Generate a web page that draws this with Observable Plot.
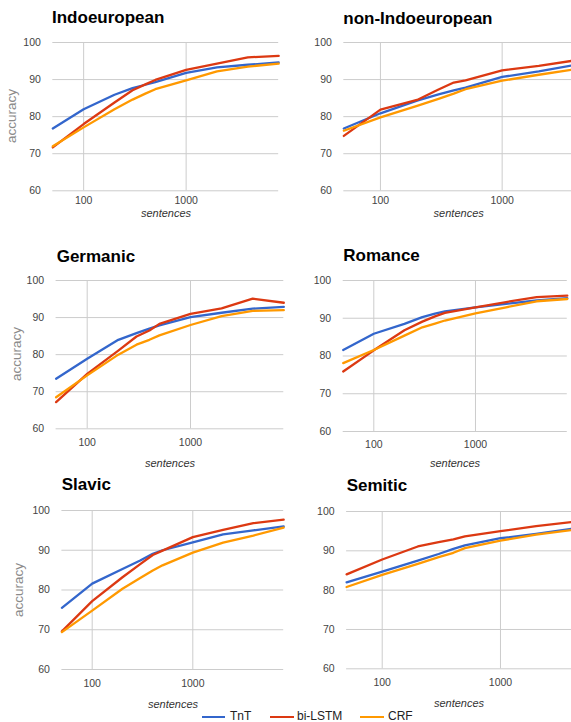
<!DOCTYPE html>
<html>
<head>
<meta charset="utf-8">
<script src="https://cdn.jsdelivr.net/npm/d3@7"></script>
<script src="https://cdn.jsdelivr.net/npm/@observablehq/plot@0.6"></script>
<style>
  html, body { margin: 0; padding: 0; background: #fff; }
  #root { position: relative; width: 571px; height: 722px; overflow: hidden; background: #fff;
          font-family: "Liberation Sans", Arial, Helvetica, sans-serif; }
  .abs { position: absolute; white-space: nowrap; line-height: 1; }
  .title { font-weight: bold; font-size: 17px; color: #000; }
  .xlab { font-style: italic; font-size: 11px; color: #333; transform: translateX(-50%); }
  .ylab { font-size: 13.5px; color: #8a8a8a; transform: translate(-50%, -50%) rotate(-90deg); }
  .leg { font-size: 12px; color: #222; }
  .legline { position: absolute; height: 2.5px; }
</style>
</head>
<body>
<div id="root"></div>
<script>
// ---- data ----
const sentences = [50, 100, 200, 300, 400, 500, 1000, 2000, 4000, 8000];
const panelNames = ["Indoeuropean", "non-Indoeuropean", "Germanic", "Romance", "Slavic", "Semitic"];
const models = ["TnT", "bi-LSTM", "CRF"];
const modelColors = ["#3366cc", "#dc3912", "#ff9900"];
const yTicks = [60, 70, 80, 90, 100];
const xTicks = [100, 1000];

const tntValues = [
  [76.8, 82.0, 85.9, 87.7, 88.6, 89.3, 91.8, 93.3, 94.0, 94.6],
  [76.8, 80.9, 84.3, 86.0, 87.1, 87.8, 90.7, 92.2, 94.0, 94.6],
  [73.5, 78.9, 84.0, 85.8, 87.0, 87.9, 90.1, 91.3, 92.4, 92.9],
  [81.6, 85.9, 88.5, 90.3, 91.2, 91.8, 92.9, 93.8, 94.7, 95.3],
  [75.5, 81.6, 85.3, 87.4, 89.1, 90.0, 92.0, 94.0, 95.0, 96.0],
  [82.0, 84.7, 87.5, 89.2, 90.5, 91.4, 93.2, 94.3, 95.6, 96.3]
];
const bilstmValues = [
  [71.7, 78.0, 83.8, 87.1, 88.7, 89.9, 92.6, 94.3, 96.0, 96.4],
  [74.8, 81.9, 84.5, 87.3, 89.2, 89.8, 92.5, 93.7, 95.2, 96.0],
  [67.2, 74.8, 81.1, 84.9, 86.5, 88.3, 91.0, 92.5, 95.1, 94.0],
  [75.9, 81.5, 86.8, 89.1, 90.5, 91.4, 92.9, 94.3, 95.6, 96.0],
  [69.6, 77.2, 83.2, 86.5, 88.8, 89.9, 93.3, 95.1, 96.8, 97.7],
  [84.0, 87.8, 91.1, 92.2, 92.9, 93.7, 95.0, 96.3, 97.3, 97.6]
];
const crfValues = [
  [72.0, 77.1, 82.0, 84.6, 86.2, 87.4, 89.8, 92.2, 93.5, 94.3],
  [76.2, 79.8, 82.9, 84.8, 86.2, 87.4, 89.7, 91.3, 92.8, 93.6],
  [68.5, 74.4, 80.0, 82.7, 84.0, 85.2, 88.0, 90.4, 91.8, 92.0],
  [78.1, 81.6, 85.4, 87.6, 88.6, 89.4, 91.3, 92.9, 94.5, 95.1],
  [69.4, 74.8, 80.3, 83.0, 84.9, 86.2, 89.4, 91.9, 93.7, 95.7],
  [80.8, 83.9, 86.7, 88.4, 89.5, 90.7, 92.6, 94.1, 95.3, 95.8]
];

// ---- layout (page coordinates of each plot frame) ----
const layout = [
  {col: 0,   L: 52.3,  R: 278.2, T: 41.7, B: 190,   pad: 6,  tx: 52,    ty: 23,    sx: 166,   sy: 213,   ax: 11.7},
  {col: 285, L: 343.3, R: 611.6, T: 41.7, B: 190,   pad: 6,  tx: 343.3, ty: 24,    sx: 458.7, sy: 213},
  {col: 0,   L: 55.6,  R: 283.3, T: 280,  B: 428.3, pad: 9.5, tx: 56.7, ty: 262.7, sx: 170,   sy: 463,   ax: 16.7},
  {col: 285, L: 342.7, R: 566.8, T: 280,  B: 431,   pad: 9,  tx: 343.3, ty: 261.7, sx: 455,   sy: 463},
  {col: 0,   L: 61.4,  R: 283.2, T: 510,  B: 669,   pad: 10, tx: 61.7,  ty: 490,   sx: 173,   sy: 704.3, ax: 18.7},
  {col: 285, L: 346.1, R: 606.8, T: 511,  B: 668.3, pad: 10, tx: 346.7, ty: 491.7, sx: 459,   sy: 703.5}
];

const root = document.getElementById("root");

function addText(cls, text, x, baseline, fs) {
  const d = document.createElement("div");
  d.className = "abs " + cls;
  d.textContent = text;
  d.style.left = x + "px";
  d.style.top = (baseline - 0.8465 * fs) + "px";
  root.appendChild(d);
  return d;
}

panelNames.forEach((name, i) => {
  const lay = layout[i];
  const series = [tntValues[i], bilstmValues[i], crfValues[i]];
  const svgTop = lay.T - 10;
  const mL = lay.L - lay.col, mR = 10, mT = 10, mB = 30;
  const width = lay.R - lay.col + mR;
  const height = (lay.B - svgTop) + mB;

  const lineMarks = models.map((m, k) => {
    const rows = sentences.map((s, j) => ({sentences: s, accuracy: series[k][j], model: m}));
    return Plot.line(rows, {x: "sentences", y: "accuracy", stroke: modelColors[k], strokeWidth: 2.3, strokeLinejoin: "round"});
  });

  const chart = Plot.plot({
    width, height,
    marginLeft: mL, marginRight: mR, marginTop: mT, marginBottom: mB,
    style: {fontFamily: '"Liberation Sans", Arial, sans-serif', fontSize: "10.5px", color: "#444", background: "transparent", overflow: "visible"},
    x: {type: "log", domain: [50, 8000]},
    y: {domain: [60, 100]},
    marks: [
      Plot.gridY(yTicks, {stroke: "#cccccc", strokeOpacity: 1, strokeWidth: 1}),
      Plot.gridX(xTicks, {stroke: "#cccccc", strokeOpacity: 1, strokeWidth: 1}),
      Plot.axisY(yTicks, {tickSize: 0, tickPadding: 12, label: null, fill: "#444"}),
      Plot.axisX(xTicks, {tickSize: 0, tickPadding: lay.pad, label: null, fill: "#444", tickFormat: d => String(d)}),
      ...lineMarks
    ]
  });
  chart.style.position = "absolute";
  chart.style.left = lay.col + "px";
  chart.style.top = svgTop + "px";
  root.appendChild(chart);

  addText("title", name, lay.tx, lay.ty, 17);
  addText("xlab", "sentences", lay.sx, lay.sy + 4, 11);
  if (lay.ax !== undefined) {
    const d = document.createElement("div");
    d.className = "abs ylab";
    d.textContent = "accuracy";
    d.style.left = lay.ax + "px";
    d.style.top = ((lay.T + lay.B) / 2) + "px";
    root.appendChild(d);
  }
});

// ---- legend ----
const legendPos = [{lx: 201.7, tx: 230}, {lx: 270, tx: 297}, {lx: 360, tx: 388}];
models.forEach((m, k) => {
  const ln = document.createElement("div");
  ln.className = "legline";
  ln.style.left = legendPos[k].lx + "px";
  ln.style.width = "23.5px";
  ln.style.top = "715.5px";
  ln.style.background = modelColors[k];
  root.appendChild(ln);
  addText("leg", m, legendPos[k].tx, 720, 12);
});
</script>
</body>
</html>
